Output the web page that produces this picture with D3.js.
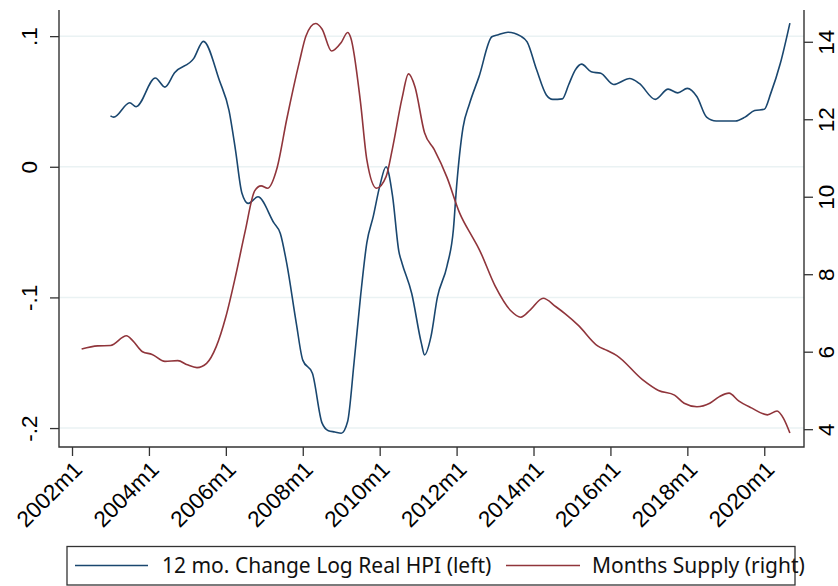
<!DOCTYPE html>
<html>
<head>
<meta charset="utf-8">
<script src="https://cdn.jsdelivr.net/npm/d3@7"></script>
<style>
  body { margin: 0; background: #fff; }
</style>
</head>
<body>
<div id="chart"></div>
<script>
// 12 month change in log real HPI (left axis)
const hpiDates = ["2003m1","2003m2","2003m7","2003m9","2004m3","2004m6","2004m9","2005m3","2005m6",
  "2005m11","2006m2","2006m4","2006m6","2006m8","2006m11","2007m4","2007m6","2007m8","2007m11",
  "2008m1","2008m4","2008m7","2008m9","2008m11","2009m1","2009m3","2009m5","2009m7","2009m9",
  "2009m11","2010m1","2010m3","2010m5","2010m7","2010m8","2010m11","2011m2","2011m3","2011m5",
  "2011m7","2011m10","2011m12","2012m1","2012m3","2012m5","2012m8","2012m12","2013m2","2013m5",
  "2013m9","2013m11","2014m2","2014m5","2014m7","2014m10","2014m12","2015m2","2015m4","2015m7",
  "2015m10","2016m2","2016m7","2016m10","2017m3","2017m7","2017m10","2018m1","2018m4","2018m7",
  "2018m10","2019m4","2019m7","2019m10","2020m1","2020m3","2020m6","2020m9"];
const hpiValues = [0.039,0.038,0.049,0.046,0.068,0.061,0.072,0.083,0.096,
  0.066,0.043,0.013,-0.020,-0.028,-0.023,-0.043,-0.051,-0.074,-0.120,
  -0.148,-0.158,-0.196,-0.202,-0.203,-0.204,-0.195,-0.150,-0.100,-0.058,
  -0.038,-0.015,0.000,-0.022,-0.065,-0.074,-0.097,-0.135,-0.144,-0.130,
  -0.100,-0.076,-0.048,-0.015,0.030,0.048,0.069,0.0995,0.101,0.103,
  0.100,0.0956,0.074,0.055,0.0516,0.052,0.063,0.074,0.0786,0.0727,
  0.0715,0.063,0.0676,0.0638,0.0516,0.0594,0.0566,0.060,0.0536,0.038,
  0.035,0.035,0.038,0.043,0.044,0.056,0.079,0.110];

// months supply (right axis)
const supplyDates = ["2002m4","2002m9","2003m1","2003m6","2003m8","2003m11","2004m2","2004m6","2004m10",
  "2005m1","2005m4","2005m7","2005m10","2006m1","2006m4","2006m7","2006m10","2006m12","2007m2",
  "2007m5","2007m8","2007m12","2008m2","2008m5","2008m7","2008m10","2009m1","2009m3","2009m4",
  "2009m7","2009m9","2009m12","2010m3","2010m5","2010m8","2010m10","2010m12","2011m3","2011m6",
  "2011m10","2012m2","2012m6","2012m8","2013m1","2013m6","2013m9","2013m12","2014m4","2014m8",
  "2014m11","2015m3","2015m9","2015m12","2016m3","2016m11","2017m4","2017m9","2017m12","2018m4",
  "2018m8","2018m11","2019m2","2019m5","2019m9","2020m2","2020m5","2020m7","2020m9"];
const supplyValues = [6.07,6.15,6.16,6.41,6.28,6.00,5.93,5.75,5.77,
  5.66,5.59,5.70,6.13,6.90,7.94,9.10,10.15,10.28,10.22,
  10.75,12.0,13.5,14.15,14.47,14.33,13.76,13.98,14.24,14.1,
  12.45,10.95,10.22,10.52,11.25,12.55,13.17,12.84,11.65,11.22,
  10.50,9.57,8.95,8.65,7.70,7.05,6.89,7.08,7.38,7.16,
  6.97,6.68,6.15,6.03,5.90,5.28,5.00,4.88,4.67,4.58,
  4.67,4.84,4.93,4.73,4.55,4.37,4.47,4.28,3.90];

const xTicks = ["2002m1","2004m1","2006m1","2008m1","2010m1","2012m1","2014m1","2016m1","2018m1","2020m1"];
const leftTicks = [0.1, 0, -0.1, -0.2];
const leftTickLabels = [".1", "0", "-.1", "-.2"];
const rightTicks = [14, 12, 10, 8, 6, 4];
const legendLabels = ["12 mo. Change Log Real HPI (left)", "Months Supply (right)"];

const W = 838, H = 586;
const plot = {left: 59, right: 804, top: 10, bottom: 447};
const blue = "#1a476f", red = "#90353b", grid = "#eaf2f3", axisCol = "#333";
const tickFont = "'Liberation Sans', Arial, sans-serif";
const legendFont = "'Noto Sans', sans-serif";

// "2003m7" -> months since 2002m1
function monthIndex(s) {
  const p = s.split("m");
  return (+p[0] - 2002) * 12 + (+p[1] - 1);
}

const x = d3.scaleLinear().domain([-4.06, 228.4]).range([plot.left, plot.right]);
const yL = d3.scaleLinear().domain([-0.2145, 0.12]).range([plot.bottom, plot.top]);
const yR = d3.scaleLinear().domain([3.54, 14.82]).range([plot.bottom, plot.top]);

const svg = d3.select("#chart").append("svg")
  .attr("width", W)
  .attr("height", H);

// gridlines at left axis ticks
svg.append("g")
  .selectAll("line")
  .data(leftTicks)
  .join("line")
  .attr("x1", plot.left).attr("x2", plot.right)
  .attr("y1", d => yL(d)).attr("y2", d => yL(d))
  .attr("stroke", grid)
  .attr("stroke-width", 1.5);

function styleTicks(g) {
  g.select(".domain").remove();
  g.selectAll(".tick line").attr("stroke", axisCol).attr("stroke-width", 1.3);
  g.selectAll(".tick text")
    .attr("x", null).attr("y", null).attr("dy", null)
    .attr("fill", "#000")
    .style("font-family", tickFont)
    .style("font-size", "22.5px");
}

// left axis
const axisL = svg.append("g")
  .attr("transform", "translate(" + plot.left + ",0)")
  .call(d3.axisLeft(yL).tickValues(leftTicks).tickSize(9).tickPadding(0)
    .tickFormat((d, i) => leftTickLabels[i]));
styleTicks(axisL);
axisL.selectAll(".tick text")
  .attr("text-anchor", "middle")
  .attr("transform", "translate(-22,0) rotate(-90)");

// right axis
const axisR = svg.append("g")
  .attr("transform", "translate(" + plot.right + ",0)")
  .call(d3.axisRight(yR).tickValues(rightTicks).tickSize(9).tickPadding(0));
styleTicks(axisR);
axisR.selectAll(".tick text")
  .attr("text-anchor", "middle")
  .attr("transform", "translate(30,0) rotate(-90)");

// bottom axis
const axisB = svg.append("g")
  .attr("transform", "translate(0," + plot.bottom + ")")
  .call(d3.axisBottom(x).tickValues(xTicks.map(monthIndex)).tickSize(9).tickPadding(0)
    .tickFormat((d, i) => xTicks[i]));
styleTicks(axisB);
axisB.selectAll(".tick text")
  .attr("text-anchor", "end")
  .attr("transform", "translate(11,24) rotate(-45)");

// axis lines
svg.append("path")
  .attr("d", "M" + plot.left + "," + plot.top + "V" + plot.bottom + "H" + plot.right + "V" + plot.top)
  .attr("fill", "none")
  .attr("stroke", axisCol)
  .attr("stroke-width", 1.4);

// series
const hpi = hpiDates.map((d, i) => [monthIndex(d), hpiValues[i]]);
const supply = supplyDates.map((d, i) => [monthIndex(d), supplyValues[i]]);

const lineL = d3.line().curve(d3.curveMonotoneX).x(d => x(d[0])).y(d => yL(d[1]));
const lineR = d3.line().curve(d3.curveMonotoneX).x(d => x(d[0])).y(d => yR(d[1]));

svg.append("path")
  .datum(hpi)
  .attr("d", lineL)
  .attr("fill", "none")
  .attr("stroke", blue)
  .attr("stroke-width", 1.6);

svg.append("path")
  .datum(supply)
  .attr("d", lineR)
  .attr("fill", "none")
  .attr("stroke", red)
  .attr("stroke-width", 1.6);

// legend
const legend = svg.append("g");
legend.append("rect")
  .attr("x", 67).attr("y", 546.5)
  .attr("width", 728).attr("height", 38.5)
  .attr("fill", "#fff")
  .attr("stroke", axisCol)
  .attr("stroke-width", 1.3);

const legendItems = [
  {label: legendLabels[0], color: blue, x0: 75, x1: 148, tx: 162},
  {label: legendLabels[1], color: red, x0: 506, x1: 580, tx: 592}
];
legendItems.forEach(item => {
  legend.append("line")
    .attr("x1", item.x0).attr("x2", item.x1)
    .attr("y1", 565.5).attr("y2", 565.5)
    .attr("stroke", item.color)
    .attr("stroke-width", 1.6);
  legend.append("text")
    .attr("x", item.tx).attr("y", 573)
    .attr("fill", "#111")
    .style("font-family", legendFont)
    .style("font-size", "21px")
    .text(item.label);
});
</script>
</body>
</html>
